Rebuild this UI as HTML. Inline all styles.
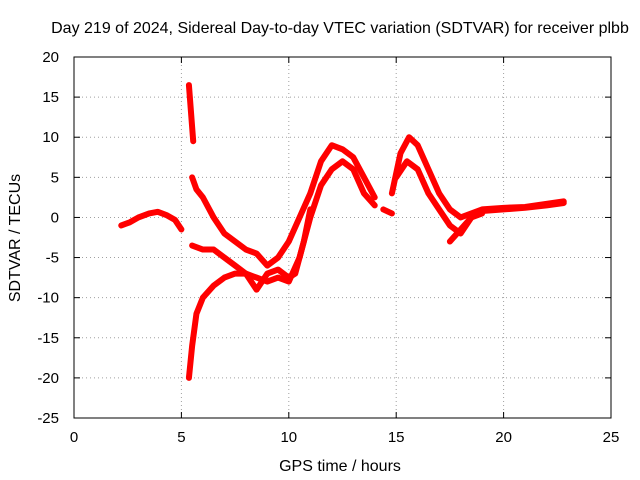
<!DOCTYPE html>
<html><head><meta charset="utf-8"><style>
body{margin:0;background:#fff}
svg{display:block;font-family:"Liberation Sans",sans-serif;font-size:15px}
</style></head><body>
<svg id="c" width="640" height="480"></svg>
<script>
const xTicks=[0,5,10,15,20,25];
const yTicks=[20,15,10,5,0,-5,-10,-15,-20,-25];
const seriesEarly=[[2.2,-1],[2.6,-0.6],[3.0,0],[3.5,0.5],[3.9,0.7],[4.3,0.3],[4.7,-0.3],[5.0,-1.5]];
const seriesSpike=[[5.35,16.5],[5.45,13],[5.55,9.5]];
const seriesLower=[[5.35,-20],[5.5,-16],[5.7,-12],[6.0,-10],[6.5,-8.5],[7,-7.5],[7.5,-7],[8,-7],[8.5,-7.5],[9,-8],[9.5,-7.5],[10,-8],[10.5,-5],[11,0],[11.5,4],[12,6],[12.5,7],[13,6],[13.5,3],[14,1.5]];
const seriesUpper=[[5.5,5],[5.7,3.5],[6,2.5],[6.5,0],[7,-2],[7.5,-3],[8,-4],[8.5,-4.5],[9,-6],[9.5,-5],[10,-3],[10.5,0],[11,3],[11.5,7],[12,9],[12.5,8.5],[13,7.5],[13.5,5],[14,2.5]];
const seriesMiddle=[[5.5,-3.5],[6,-4],[6.5,-4],[7,-5],[7.5,-6],[8,-7],[8.5,-9],[9,-7],[9.5,-6.5],[10,-7.5],[10.3,-7],[10.7,-3],[11,1]];
const seriesGap=[[14.4,1],[14.8,0.5]];
const seriesRightA=[[14.8,3],[15.2,8],[15.6,10],[16,9],[16.5,6],[17,3],[17.5,1],[18,0],[18.5,0.5],[19,1],[20,1.2],[21,1.3],[22,1.7],[22.8,2]];
const seriesRightB=[[15,5],[15.5,7],[16,6],[16.5,3],[17,1],[17.5,-1],[18,-2],[18.5,0],[19,0.5]];
const seriesRightC=[[17.5,-3],[18,-1.5],[18.5,0],[19,0.8],[20,1],[21,1.2],[22,1.5],[22.8,1.8]];
const allSeries=[seriesEarly,seriesSpike,seriesLower,seriesUpper,seriesMiddle,seriesGap,seriesRightA,seriesRightB,seriesRightC];

const L=74,R=611,T=57,B=418;
const sx=v=>L+(v-0)/25*(R-L);
const sy=v=>T+(20-v)/45*(B-T);
const svg=document.getElementById('c');
const NS='http://www.w3.org/2000/svg';
function mk(tag,a,p){const e=document.createElementNS(NS,tag);for(const k in a)e.setAttribute(k,a[k]);(p||svg).appendChild(e);return e;}

xTicks.forEach(v=>{
  if(v>0&&v<25){const g=mk('line',{x1:sx(v),x2:sx(v),y1:T,y2:B,stroke:'#a0a0a0','stroke-dasharray':'1,3'});
  }
  const t=mk('line',{x1:sx(v),x2:sx(v),y1:B,y2:B-6,stroke:'#000'});
  
  const t2=mk('line',{x1:sx(v),x2:sx(v),y1:T,y2:T+6,stroke:'#000'});
  
  const l=mk('text',{x:sx(v),y:B+24,'text-anchor':'middle'});l.textContent=v;
  
});
yTicks.forEach(v=>{
  if(v<20&&v>-25){const g=mk('line',{x1:L,x2:R,y1:sy(v),y2:sy(v),stroke:'#a0a0a0','stroke-dasharray':'1,3'});
  }
  const t=mk('line',{x1:L,x2:L+6,y1:sy(v),y2:sy(v),stroke:'#000'});
  
  const t2=mk('line',{x1:R,x2:R-6,y1:sy(v),y2:sy(v),stroke:'#000'});
  
  const l=mk('text',{x:L-15,y:sy(v)+5,'text-anchor':'end'});l.textContent=v;
  
});
const fr=mk('rect',{x:L,y:T,width:R-L,height:B-T,fill:'none',stroke:'#000'});


allSeries.forEach(s=>{
  const p=mk('polyline',{points:s.map(d=>sx(d[0])+','+sy(d[1])).join(' '),fill:'none',stroke:'#f00','stroke-width':6,'stroke-linejoin':'round','stroke-linecap':'round'});
  
});

const ti=mk('text',{x:340,y:33,'text-anchor':'middle','font-size':'16'});ti.textContent='Day 219 of 2024, Sidereal Day-to-day VTEC variation (SDTVAR) for receiver plbb';

const xt=mk('text',{x:340,y:471,'text-anchor':'middle','font-size':'16'});xt.textContent='GPS time / hours';

const yt=mk('text',{x:20,y:238,'text-anchor':'middle','font-size':'16',transform:'rotate(-90 20 238)'});yt.textContent='SDTVAR / TECUs';

</script>
</body></html>
